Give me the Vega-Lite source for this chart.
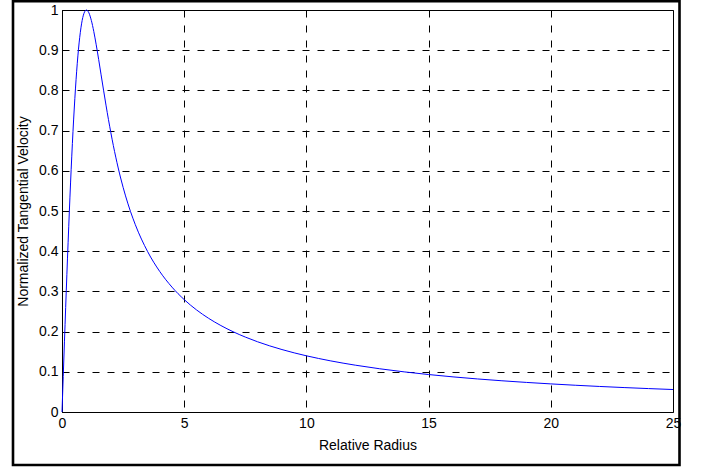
{
  "$schema": "https://vega.github.io/schema/vega-lite/v6.json",
  "width": 611,
  "height": 402,
  "autosize": {"type": "none"},
  "padding": {"left": 62, "top": 10, "right": 33, "bottom": 56},
  "background": "white",
  "config": {
    "view": {"stroke": "black", "strokeWidth": 1},
    "font": "Liberation Sans",
    "axis": {
      "grid": true,
      "gridColor": "#000",
      "gridDash": [7, 8],
      "gridWidth": 1,
      "gridOpacity": 1,
      "domainColor": "#000",
      "domainWidth": 1,
      "ticks": false,
      "labelFont": "Liberation Sans",
      "labelFontSize": 14,
      "labelColor": "#000",
      "titleFont": "Liberation Sans",
      "titleFontSize": 14,
      "titleFontWeight": "normal",
      "titleColor": "#000",
      "labelOverlap": false,
      "labelFlush": false,
      "labelPadding": 4
    }
  },
  "layer": [
    {
      "data": {"values": [{}]},
      "mark": {"type": "rect", "fillOpacity": 0, "stroke": "black", "strokeWidth": 2.6, "clip": false},
      "encoding": {
        "x": {"datum": -2.005, "type": "quantitative", "title": "Relative Radius", "scale": {"domain": [0, 25], "nice": false, "zero": false}},
        "x2": {"datum": 25.266},
        "y": {"datum": 1.0219, "type": "quantitative", "title": "Normalized Tangential Velocity", "scale": {"domain": [0, 1], "nice": false, "zero": false}},
        "y2": {"datum": -0.1318}
      }
    },
    {
      "data": {
        "values": [
          {"r": 0, "v": 0},
          {"r": 0.1, "v": 0.17454},
          {"r": 0.2, "v": 0.3426},
          {"r": 0.3, "v": 0.49823},
          {"r": 0.4, "v": 0.63646},
          {"r": 0.5, "v": 0.75366},
          {"r": 0.6, "v": 0.84773},
          {"r": 0.7, "v": 0.91808},
          {"r": 0.8, "v": 0.96549},
          {"r": 0.9, "v": 0.99189},
          {"r": 1.0, "v": 1.0},
          {"r": 1.1, "v": 0.99299},
          {"r": 1.2, "v": 0.97417},
          {"r": 1.3, "v": 0.9467},
          {"r": 1.4, "v": 0.91345},
          {"r": 1.5, "v": 0.8768},
          {"r": 1.6, "v": 0.83869},
          {"r": 1.7, "v": 0.80054},
          {"r": 1.8, "v": 0.76339},
          {"r": 1.9, "v": 0.72787},
          {"r": 2.0, "v": 0.69438},
          {"r": 2.2, "v": 0.63398},
          {"r": 2.4, "v": 0.58206},
          {"r": 2.6, "v": 0.53756},
          {"r": 2.8, "v": 0.49924},
          {"r": 3.0, "v": 0.46598},
          {"r": 3.5, "v": 0.39941},
          {"r": 4.0, "v": 0.34949},
          {"r": 4.5, "v": 0.31066},
          {"r": 5.0, "v": 0.27959},
          {"r": 5.5, "v": 0.25417},
          {"r": 6.0, "v": 0.23299},
          {"r": 6.5, "v": 0.21507},
          {"r": 7.0, "v": 0.19971},
          {"r": 7.5, "v": 0.18639},
          {"r": 8.0, "v": 0.17474},
          {"r": 8.5, "v": 0.16446},
          {"r": 9.0, "v": 0.15533},
          {"r": 9.5, "v": 0.14715},
          {"r": 10, "v": 0.1398},
          {"r": 11, "v": 0.12709},
          {"r": 12, "v": 0.1165},
          {"r": 13, "v": 0.10753},
          {"r": 14, "v": 0.09985},
          {"r": 15, "v": 0.0932},
          {"r": 16, "v": 0.08737},
          {"r": 17, "v": 0.08223},
          {"r": 18, "v": 0.07766},
          {"r": 19, "v": 0.07358},
          {"r": 20, "v": 0.0699},
          {"r": 21, "v": 0.06657},
          {"r": 22, "v": 0.06354},
          {"r": 23, "v": 0.06078},
          {"r": 24, "v": 0.05825},
          {"r": 25, "v": 0.05592}
        ]
      },
      "mark": {"type": "line", "color": "#0000ff", "strokeWidth": 1, "interpolate": "monotone"},
      "encoding": {
        "x": {
          "field": "r",
          "type": "quantitative",
          "title": "Relative Radius",
          "scale": {"domain": [0, 25], "nice": false, "zero": false},
          "axis": {"values": [0, 5, 10, 15, 20, 25], "format": "d", "titlePadding": 8}
        },
        "y": {
          "field": "v",
          "type": "quantitative",
          "title": "Normalized Tangential Velocity",
          "scale": {"domain": [0, 1], "nice": false, "zero": false},
          "axis": {"values": [0, 0.1, 0.2, 0.3, 0.4, 0.5, 0.6, 0.7, 0.8, 0.9, 1], "format": "~g", "titlePadding": 8}
        }
      }
    }
  ]
}
